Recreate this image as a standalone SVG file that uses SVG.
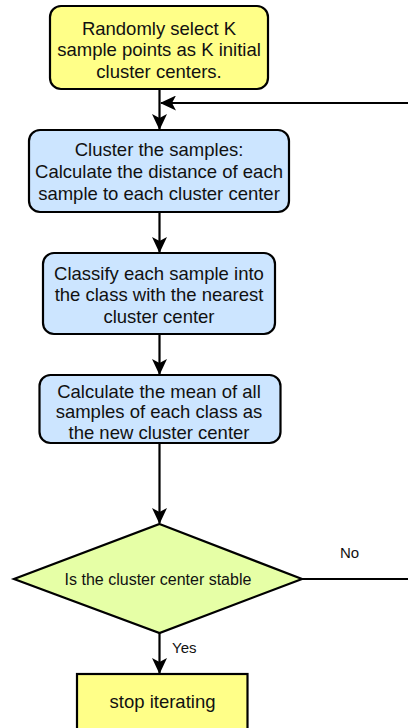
<svg xmlns="http://www.w3.org/2000/svg" width="408" height="728" viewBox="0 0 408 728">
<style>
.box{stroke:#000;stroke-width:2.2}
.y{fill:#ffff88}
.b{fill:#cce5ff}
.d{fill:#e6ffa6}
.t{font-family:"Liberation Sans",Arial,sans-serif;font-size:18.5px;fill:#111;text-anchor:middle}
.s{font-family:"Liberation Sans",Arial,sans-serif;font-size:16px;fill:#111;text-anchor:middle}
.l{font-family:"Liberation Sans",Arial,sans-serif;font-size:15px;fill:#111}
.c{fill:none;stroke:#000;stroke-width:2.2}
</style>
<defs>
<marker id="arr" markerUnits="userSpaceOnUse" viewBox="0 0 16 15" refX="15" refY="7.5" markerWidth="16" markerHeight="15" orient="auto">
<path d="M0,0 L16,7.5 L0,15 L4,7.5 Z" fill="#000"/>
</marker>
</defs>
<g id="connectors">
<path class="c" d="M159.5,89 V129" marker-end="url(#arr)"/>
<path class="c" d="M302,579 H420 V103 H161" marker-end="url(#arr)"/>
<path class="c" d="M159.5,212 V252" marker-end="url(#arr)"/>
<path class="c" d="M159.5,334 V374" marker-end="url(#arr)"/>
<path class="c" d="M159.5,443 V523" marker-end="url(#arr)"/>
<path class="c" d="M159.5,633 V673" marker-end="url(#arr)"/>
<text class="l" x="340" y="558">No</text>
<text class="l" x="172" y="653">Yes</text>
</g>
<g id="n1">
<rect class="box y" x="50" y="6" width="218" height="83" rx="11"/>
<text class="t" x="159" y="34.5">Randomly select K</text>
<text class="t" x="159" y="56">sample points as K initial</text>
<text class="t" x="159" y="77.5">cluster centers.</text>
</g>
<g id="n2">
<rect class="box b" x="29" y="130" width="260" height="82" rx="11"/>
<text class="t" x="159" y="156">Cluster the samples:</text>
<text class="t" x="159" y="178">Calculate the distance of each</text>
<text class="t" x="159" y="200">sample to each cluster center</text>
</g>
<g id="n3">
<rect class="box b" x="43" y="253" width="232" height="81" rx="11"/>
<text class="t" x="159" y="279.5">Classify each sample into</text>
<text class="t" x="159" y="301">the class with the nearest</text>
<text class="t" x="159" y="322.5">cluster center</text>
</g>
<g id="n4">
<rect class="box b" x="39.5" y="375" width="241" height="68" rx="11"/>
<text class="t" x="159" y="397.5">Calculate the mean of all</text>
<text class="t" x="159" y="418">samples of each class as</text>
<text class="t" x="159" y="439">the new cluster center</text>
</g>
<g id="n5">
<polygon class="box d" points="159.5,524 302,579 159.5,633 14,579"/>
<text class="s" x="158" y="585">Is the cluster center stable</text>
</g>
<g id="n6">
<rect class="box y" x="77" y="674" width="170.5" height="70"/>
<text class="t" x="162.5" y="708">stop iterating</text>
</g>
</svg>
